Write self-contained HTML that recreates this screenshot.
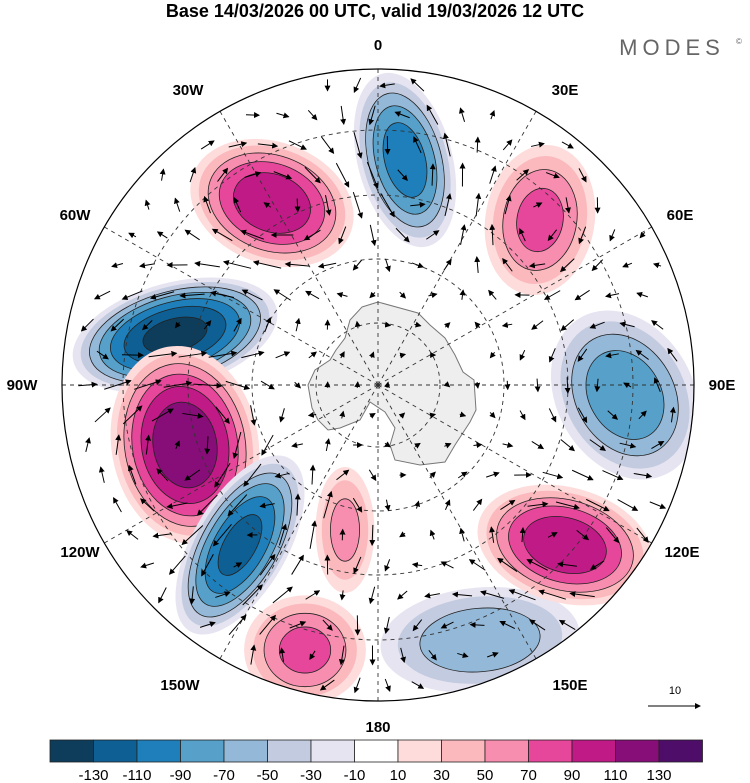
<!DOCTYPE html>
<html><head><meta charset="utf-8"><style>
html,body{margin:0;padding:0;background:#fff;width:750px;height:783px;overflow:hidden}
svg{font-family:"Liberation Sans",Arial,sans-serif}
</style></head><body>
<svg id="chart" width="750" height="783" viewBox="0 0 750 783">
<text x="375" y="17" text-anchor="middle" font-size="18" font-weight="bold">Base 14/03/2026 00 UTC, valid 19/03/2026 12 UTC</text>
<text x="672" y="55" text-anchor="middle" font-size="22" fill="#666" letter-spacing="5">MODES</text>
<text x="736" y="44" font-size="8" fill="#666">©</text>
<defs><clipPath id="disk"><circle cx="378" cy="385" r="316"/></clipPath>
<marker id="ah" markerWidth="6" markerHeight="6" refX="5" refY="3" orient="auto"><path d="M0,0 L6,3 L0,6 z" fill="#000"/></marker></defs>
<g id="field" clip-path="url(#disk)"></g>
<g id="land" clip-path="url(#disk)"></g>
<g id="grid" clip-path="url(#disk)"></g>
<g id="arrows" clip-path="url(#disk)"></g>
<circle cx="378" cy="385" r="316" fill="none" stroke="#000" stroke-width="1.2"/>
<g id="labels" font-size="15" font-weight="bold"></g>
<g id="cbar"></g>
<g><text x="675" y="694" text-anchor="middle" font-size="11">10</text>
<line x1="648" y1="706" x2="700" y2="706" stroke="#000" marker-end="url(#ah)"/></g>
</svg>
<script>
const NS="http://www.w3.org/2000/svg";
// data arrays
const blobCx=[405,272,540,175,185,240,345,305,480,565,625];
const blobCy=[160,203,220,335,445,545,530,650,640,545,395];
const blobRx=[45,80,52,100,70,45,28,58,95,85,65];
const blobRy=[85,58,72,50,95,95,60,52,50,55,85];
const blobRot=[-15,20,10,-15,-10,30,0,0,-5,15,-30];
const blobPeak=[-100,105,75,-135,125,-115,55,75,-65,105,-85];
const levels=[10,30,50,70,90,110,130];
const posColors=["#fddcdb","#fbb9bd","#f78eb0","#e6479a","#bf1a85","#870d78","#4d0d69"];
const negColors=["#e6e4f0","#c3cbe0","#94b8d8","#56a0c9","#1e7fba","#0e5f93","#0d3d5a"];
const cbarColors=["#0d3d5a","#0e5f93","#1e7fba","#56a0c9","#94b8d8","#c3cbe0","#e6e4f0","#ffffff","#fddcdb","#fbb9bd","#f78eb0","#e6479a","#bf1a85","#870d78","#4d0d69"];
const cbarTicks=["-130","-110","-90","-70","-50","-30","-10","10","30","50","70","90","110","130"];
const lonLabels=["0","30E","60E","90E","120E","150E","180","150W","120W","90W","60W","30W"];
const latRadii=[62,126,190,255];
const cx=378,cy=385,R=316;
const labelX=[378,565,680,722,682,570,378,180,80,22,75,188];
const labelY=[45,90,215,385,552,685,727,685,552,385,215,90];

const field=document.getElementById('field');
blobPeak.forEach((p,i)=>{
  const a=Math.abs(p), cols=p>0?posColors:negColors;
  const g=document.createElementNS(NS,'g');
  
  
  g.setAttribute('transform',`translate(${blobCx[i]},${blobCy[i]}) rotate(${blobRot[i]})`);
  levels.forEach((t,k)=>{
    if(t>=a) return;
    const s=Math.sqrt(1-(t-10)/(a-2));
    const e=document.createElementNS(NS,'ellipse');
    e.setAttribute('rx',blobRx[i]*s*1.05);e.setAttribute('ry',blobRy[i]*s*1.05);
    e.setAttribute('fill',cols[k]);
    e.setAttribute('stroke',k>=2?'#222':'none');e.setAttribute('stroke-width','0.8');
    g.appendChild(e);
  });
  field.appendChild(g);
});

// Antarctica
const land=document.getElementById('land');
const ant=document.createElementNS(NS,'polygon');
ant.setAttribute('points',"362,307 378,302 418,313 430,325 445,338 455,355 463,372 474,380 476,410 470,422 455,445 445,462 420,465 395,460 390,445 395,428 385,412 370,402 360,420 340,428 328,430 318,420 312,408 308,385 315,370 330,360 336,350 345,338 350,320");
ant.setAttribute('fill','#eeeeee');ant.setAttribute('stroke','#777');ant.setAttribute('stroke-width','1');

land.appendChild(ant);

// grid
const grid=document.getElementById('grid');
latRadii.forEach(r=>{const c=document.createElementNS(NS,'circle');
c.setAttribute('cx',cx);c.setAttribute('cy',cy);c.setAttribute('r',r);c.setAttribute('fill','none');
c.setAttribute('stroke','#333');c.setAttribute('stroke-dasharray','4 4');c.setAttribute('stroke-width','0.9');
grid.appendChild(c);});
for(let k=0;k<12;k++){const a=k*Math.PI/6;const l=document.createElementNS(NS,'line');
l.setAttribute('x1',cx);l.setAttribute('y1',cy);l.setAttribute('x2',cx+R*Math.sin(a));l.setAttribute('y2',cy-R*Math.cos(a));
l.setAttribute('stroke','#333');l.setAttribute('stroke-dasharray','4 4');l.setAttribute('stroke-width','0.9');
grid.appendChild(l);}

// labels
const lab=document.getElementById('labels');
lonLabels.forEach((t,k)=>{
const tx=document.createElementNS(NS,'text');tx.setAttribute('x',labelX[k]);tx.setAttribute('y',labelY[k]+5);tx.setAttribute('text-anchor','middle');
tx.textContent=t;lab.appendChild(tx);});

// arrows from geostrophic flow of field
function fieldAt(x,y){let v=0;blobPeak.forEach((p,i)=>{const r=blobRot[i]*Math.PI/180;const dx=x-blobCx[i],dy=y-blobCy[i];
const u=(dx*Math.cos(r)+dy*Math.sin(r))/blobRx[i],w=(-dx*Math.sin(r)+dy*Math.cos(r))/blobRy[i];v+=p*Math.exp(-(u*u+w*w)/1.2);});return v;}
const arr=document.getElementById('arrows');
for(let y=85;y<700;y+=30)for(let x=75;x<690;x+=30){
  const xx=x+((y/30)%2)*15; if(Math.hypot(xx-cx,y-cy)>R-10)continue;
  const gx=(fieldAt(xx+1,y)-fieldAt(xx-1,y))/2,gy=(fieldAt(xx,y+1)-fieldAt(xx,y-1))/2;
  let ux=gy,uy=-gx;const m=Math.hypot(ux,uy);if(m<0.02)continue;
  const L=Math.min(28,5+m*11);ux/=m;uy/=m;
  const l=document.createElementNS(NS,'line');
  l.setAttribute('x1',xx-ux*L/2);l.setAttribute('y1',y-uy*L/2);l.setAttribute('x2',xx+ux*L/2);l.setAttribute('y2',y+uy*L/2);
  l.setAttribute('stroke','#000');l.setAttribute('stroke-width','1');l.setAttribute('marker-end','url(#ah)');
  arr.appendChild(l);}

// colorbar
const cb=document.getElementById('cbar');const x0=50,w=43.5,y0=740,h=22;
cbarColors.forEach((c,i)=>{const r=document.createElementNS(NS,'rect');r.setAttribute('x',x0+i*w);r.setAttribute('y',y0);
r.setAttribute('width',w);r.setAttribute('height',h);r.setAttribute('fill',c);r.setAttribute('stroke','#222');r.setAttribute('stroke-width','0.8');
cb.appendChild(r);});
cbarTicks.forEach((t,i)=>{const tx=document.createElementNS(NS,'text');tx.setAttribute('x',x0+(i+1)*w);tx.setAttribute('y',780);
tx.setAttribute('text-anchor','middle');tx.setAttribute('font-size','15');tx.textContent=t;
cb.appendChild(tx);});
</script>
</body></html>
